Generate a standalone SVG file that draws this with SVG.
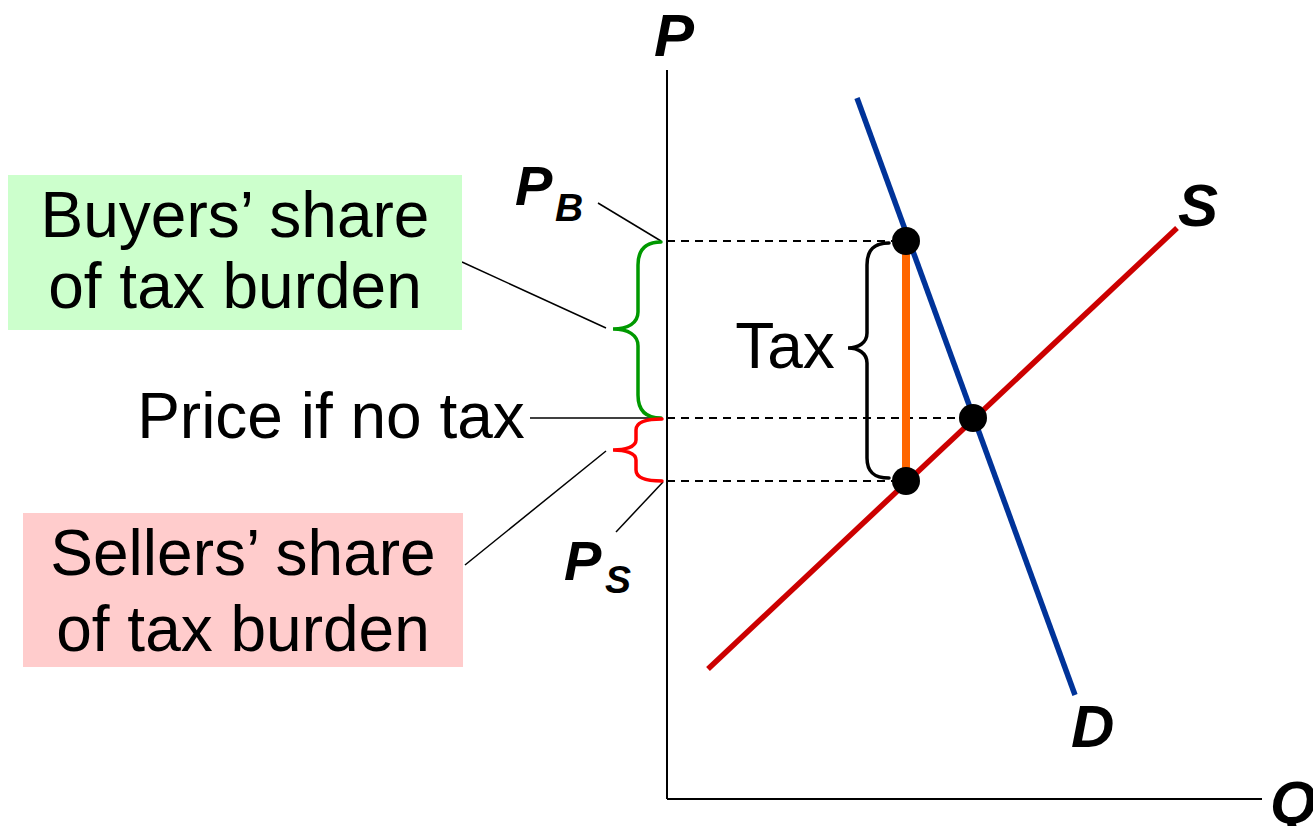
<svg xmlns="http://www.w3.org/2000/svg" width="1313" height="826" viewBox="0 0 1313 826">
<style>
.lbl{font-family:"Liberation Sans",Arial,sans-serif;font-size:64px;fill:#000}
.var{font-family:"Liberation Sans",Arial,sans-serif;font-weight:bold;font-style:italic;fill:#000}
.thin{stroke:#000;stroke-width:1.5;fill:none}
.dash{stroke:#000;stroke-width:2;stroke-dasharray:8 6;fill:none}
.brace{fill:none;stroke-width:3.5;stroke-linecap:round}
</style>
<rect width="1313" height="826" fill="#fff"/>
<g id="axes">
<line x1="667" y1="70" x2="667" y2="799" stroke="#000" stroke-width="2"/>
<line x1="667" y1="799" x2="1262" y2="799" stroke="#000" stroke-width="2"/>
<text class="var" x="654" y="56" font-size="60">P</text>
<text class="var" x="1270" y="823" font-size="60">Q</text>
</g>
<g id="connectors">
<line class="dash" x1="667" y1="241" x2="892" y2="241"/>
<line class="dash" x1="667" y1="418" x2="960" y2="418"/>
<line class="dash" x1="667" y1="481" x2="893" y2="481"/>
<line class="thin" x1="598" y1="203" x2="661" y2="241"/>
<line class="thin" x1="462" y1="262" x2="606" y2="328"/>
<line class="thin" x1="530" y1="418" x2="662" y2="418"/>
<line class="thin" x1="465" y1="565" x2="606" y2="451"/>
<line class="thin" x1="616" y1="532" x2="663" y2="482"/>
</g>
<g id="curves">
<line id="orange-tax" x1="906" y1="241" x2="906" y2="481" stroke="#FF6600" stroke-width="8"/>
<line id="demand" x1="857" y1="98" x2="1075" y2="695" stroke="#003399" stroke-width="5.5"/>
<line id="supply" x1="708" y1="669" x2="1177" y2="228" stroke="#CC0000" stroke-width="5.5"/>
<text class="var" x="1178" y="226" font-size="60">S</text>
<text class="var" x="1071" y="747" font-size="60">D</text>
</g>
<g id="points">
<circle cx="906" cy="241" r="14" fill="#000"/>
<circle cx="973" cy="418" r="14" fill="#000"/>
<circle cx="906" cy="481" r="14" fill="#000"/>
</g>
<g id="tax-brace">
<path class="brace" stroke="#000" d="M 889 243 C 874 243, 867 250, 867 265 L 867 333 C 867 343, 858 348, 848 348 C 858 348, 867 353, 867 363 L 867 458 C 867 472, 874 478, 889 478"/>
<text class="lbl" x="785" y="368" text-anchor="middle" font-size="60">Tax</text>
</g>
<g id="buyers-brace">
<path class="brace" stroke="#009900" d="M 661 242 C 645 242, 638 250, 638 265 L 638 312 C 638 323, 628 329, 613 329 C 628 329, 638 335, 638 346 L 638 395 C 638 410, 645 418, 661 418"/>
</g>
<g id="sellers-brace">
<path class="brace" stroke="#FF0000" d="M 662 419 C 645 419, 636 422, 636 430 L 636 440 C 636 447, 625 450, 613 450 C 625 450, 636 453, 636 460 L 636 470 C 636 478, 645 481, 662 481"/>
</g>
<g id="pb-label">
<text class="var" x="515" y="205" font-size="56">P</text>
<text class="var" x="555" y="221" font-size="39">B</text>
</g>
<g id="ps-label">
<text class="var" x="564" y="580" font-size="56">P</text>
<text class="var" x="605" y="593" font-size="39">S</text>
</g>
<g id="buyers-box">
<rect x="8" y="175" width="454" height="155" fill="#CCFFCC"/>
<text class="lbl" x="235" y="237" text-anchor="middle">Buyers’ share</text>
<text class="lbl" x="235" y="308" text-anchor="middle">of tax burden</text>
</g>
<g id="no-tax-label">
<text class="lbl" x="331" y="438" text-anchor="middle">Price if no tax</text>
</g>
<g id="sellers-box">
<rect x="23" y="513" width="440" height="154" fill="#FFCCCC"/>
<text class="lbl" x="243" y="575" text-anchor="middle">Sellers’ share</text>
<text class="lbl" x="243" y="651" text-anchor="middle">of tax burden</text>
</g>
</svg>
